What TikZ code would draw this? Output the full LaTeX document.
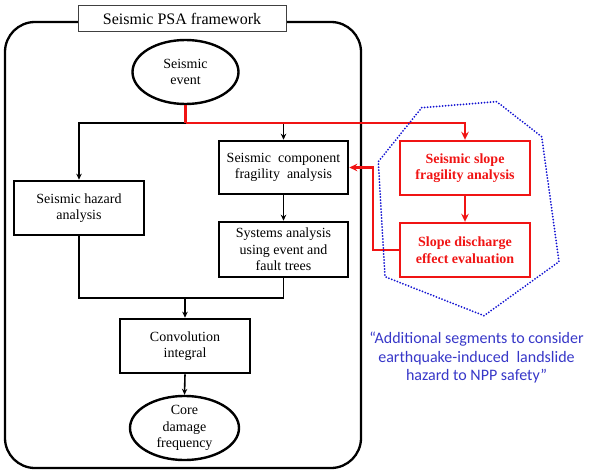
\documentclass[tikz,border=0pt]{standalone}
\usepackage{fontspec}
\setmainfont{Liberation Serif}
\newfontfamily\calib{Carlito}
\usetikzlibrary{shapes.geometric,arrows.meta}
\definecolor{myred}{RGB}{240,20,20}
\definecolor{myblue}{RGB}{55,55,200}
\definecolor{dotblue}{RGB}{20,20,210}
\tikzset{
  blk/.style={draw=black,line width=2.6pt,rectangle,inner sep=0pt,align=center,font=\fontsize{14}{16.5}\selectfont},
  ell/.style={draw=black,line width=2.4pt,ellipse,inner sep=0pt,align=center,font=\fontsize{14}{16.5}\selectfont},
  redbox/.style={draw=myred,line width=2.4pt,rectangle,inner sep=0pt,align=center,text=myred,font=\fontsize{14}{16.5}\selectfont\bfseries},
  conn/.style={draw=black,line width=1.6pt,-{Stealth[length=6pt,width=5.5pt]}},
  plainconn/.style={draw=black,line width=1.6pt},
  redconn/.style={draw=myred,line width=2.8pt,-{Stealth[length=8pt,width=7.5pt]}},
  redline/.style={draw=myred,line width=2.8pt},
}
\begin{document}
\begin{tikzpicture}[x=1pt,y=-1pt]
\useasboundingbox (0,0) rectangle (602,476);
% outer frame
\draw[line width=2.3pt,rounded corners=30pt] (5,22) rectangle (361,468);
\node[draw=black!75,line width=1pt,fill=white,minimum width=208pt,minimum height=26pt,inner sep=0pt,font=\fontsize{16}{18}\selectfont] (title) at (182,19) {Seismic PSA framework};
% nodes
\node[ell,minimum width=106pt,minimum height=64pt] (ev) at (185.5,72) {Seismic\\event};
\node[blk,minimum width=130pt,minimum height=54pt] (haz) at (79,208) {Seismic hazard\\analysis};
\node[blk,minimum width=129pt,minimum height=53pt] (comp) at (283.5,167.5) {Seismic\ \ component\\fragility\ \ analysis};
\node[blk,minimum width=129pt,minimum height=55pt] (sys) at (283.5,249.5) {Systems analysis\\using event and\\fault trees};
\node[blk,minimum width=130pt,minimum height=54pt] (conv) at (185,346) {Convolution\\integral};
\node[ell,minimum width=109pt,minimum height=64pt] (cdf) at (184.5,428) {Core\\damage\\frequency};
\node[redbox,minimum width=130pt,minimum height=54pt] (ssf) at (465,168) {Seismic slope\\fragility analysis};
\node[redbox,minimum width=130pt,minimum height=54pt] (sde) at (465,250) {Slope discharge\\effect evaluation};
% coordinates
\coordinate (j1) at (185.5,123);
\coordinate (j2) at (185,298);
\coordinate (fb) at (373,250);
% black connectors
\draw[conn] (j1) -| (haz.north);
\draw[conn] (comp.north |- j1) -- (comp.north);
\draw[conn] (comp.south) -- (sys.north);
\draw[plainconn] (haz.south) |- (j2);
\draw[plainconn] (sys.south) |- (j2);
\draw[conn] (j2) -- (conv.north);
\draw[conn] (conv.south) -- (cdf.north);
% red connectors
\draw[redline] (ev.south) -- (j1);
\draw[redconn] (j1) -| (ssf.north);
\draw[redconn] (ssf.south) -- (sde.north);
\draw[redconn] (sde.west) -- (fb) |- (comp.east);
% dotted polygon
\draw[dotblue,line width=2pt,line cap=round,dash pattern=on 0pt off 3pt,line join=round]
  (421.7,107.7) -- (496.7,101.7) -- (541.7,136.7) -- (559,261.7) -- (484,315.7) -- (385,276.7) -- (378.3,161.7) -- cycle;
% blue caption
\node[text=myblue,align=center,font=\calib\fontsize{16}{18.5}\selectfont,inner sep=0pt] (cap) at (476.5,358) {“Additional segments to consider\\earthquake-induced\ \ landslide\\hazard to NPP safety”};
\end{tikzpicture}
\end{document}
